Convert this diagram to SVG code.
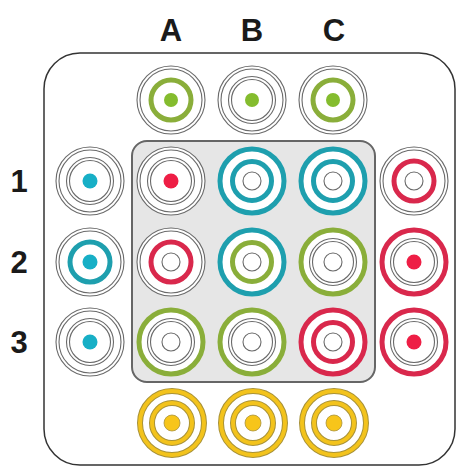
<svg xmlns="http://www.w3.org/2000/svg" width="459" height="466" viewBox="0 0 459 466">
<style>
.lbl{font-family:"Liberation Sans",Arial,sans-serif;font-weight:bold;font-size:31px;fill:#1a1a1a;text-anchor:middle}
.t{fill:none;stroke:#6a6a6a;stroke-width:1.1}
.s{fill:none;stroke:#6a6a6a;stroke-width:1.1}
.g{fill:none;stroke:#8AAE3A;stroke-width:5}
.b{fill:none;stroke:#1E9FAE;stroke-width:5}
.r{fill:none;stroke:#D9284C;stroke-width:5}
.yo{fill:none;stroke:#A89238;stroke-width:6}
.y{fill:none;stroke:#F3C31C;stroke-width:4}
.dg{fill:#84BC2E}
.db{fill:#17AFC6}
.dr{fill:#EE1E45}
.dy{fill:#F7C51A;stroke:#A89238;stroke-width:0.8}
</style>
<rect x="44" y="53" width="411" height="412" rx="36" fill="#fff" stroke="#333" stroke-width="1.5"/>
<rect x="132" y="141" width="243" height="241" rx="15" fill="#E6E6E6" stroke="#666" stroke-width="2"/>
<g id="labels">
<text class="lbl" x="171" y="41">A</text>
<text class="lbl" x="252" y="41">B</text>
<text class="lbl" x="334" y="41">C</text>
<text class="lbl" x="19" y="192">1</text>
<text class="lbl" x="19" y="273">2</text>
<text class="lbl" x="19" y="353">3</text>
</g>
<g id="connectors"/>
<!-- top row -->
<g id="topA" transform="translate(171,100)"><circle r="34" fill="#fff"/><circle class="t" r="34"/><circle class="t" r="31"/><circle class="g" r="20"/><circle class="dg" r="7"/></g>
<g id="topB" transform="translate(252,100)"><circle r="34" fill="#fff"/><circle class="t" r="34"/><circle class="t" r="31"/><circle class="t" r="23.5"/><circle class="t" r="20.5"/><circle class="dg" r="7"/></g>
<g id="topC" transform="translate(333,100)"><circle r="34" fill="#fff"/><circle class="t" r="34"/><circle class="t" r="31"/><circle class="g" r="20"/><circle class="dg" r="7"/></g>
<!-- left column -->
<g id="left1" transform="translate(90,181)"><circle r="34" fill="#fff"/><circle class="t" r="34"/><circle class="t" r="31"/><circle class="t" r="23.5"/><circle class="t" r="20.5"/><circle class="db" r="7.5"/></g>
<g id="left2" transform="translate(90,262)"><circle r="34" fill="#fff"/><circle class="t" r="34"/><circle class="t" r="31"/><circle class="b" r="20"/><circle class="db" r="7.5"/></g>
<g id="left3" transform="translate(90,342)"><circle r="34" fill="#fff"/><circle class="t" r="34"/><circle class="t" r="31"/><circle class="t" r="23.5"/><circle class="t" r="20.5"/><circle class="db" r="7.5"/></g>
<!-- grid -->
<g id="A1" transform="translate(171,181)"><circle r="34" fill="#fff"/><circle class="t" r="34"/><circle class="t" r="31"/><circle class="t" r="23.5"/><circle class="t" r="20.5"/><circle class="dr" r="7.5"/></g>
<g id="B1" transform="translate(252,181)"><circle r="34" fill="#fff"/><circle class="b" r="32"/><circle class="b" r="19.5"/><circle class="s" r="9"/></g>
<g id="C1" transform="translate(333,181)"><circle r="34" fill="#fff"/><circle class="b" r="32"/><circle class="b" r="19.5"/><circle class="s" r="9"/></g>
<g id="A2" transform="translate(171,262)"><circle r="34" fill="#fff"/><circle class="t" r="34"/><circle class="t" r="31"/><circle class="r" r="20"/><circle class="s" r="9"/></g>
<g id="B2" transform="translate(252,262)"><circle r="34" fill="#fff"/><circle class="b" r="32"/><circle class="g" r="19.5"/><circle class="s" r="9"/></g>
<g id="C2" transform="translate(333,262)"><circle r="34" fill="#fff"/><circle class="g" r="32"/><circle class="t" r="23.5"/><circle class="t" r="20.5"/><circle class="s" r="9"/></g>
<g id="A3" transform="translate(171,342)"><circle r="34" fill="#fff"/><circle class="g" r="32"/><circle class="t" r="23.5"/><circle class="t" r="20.5"/><circle class="s" r="9"/></g>
<g id="B3" transform="translate(252,342)"><circle r="34" fill="#fff"/><circle class="g" r="32"/><circle class="t" r="23.5"/><circle class="t" r="20.5"/><circle class="s" r="9"/></g>
<g id="C3" transform="translate(333,342)"><circle r="34" fill="#fff"/><circle class="r" r="32"/><circle class="r" r="19.5"/><circle class="s" r="9"/></g>
<!-- right column -->
<g id="right1" transform="translate(414,181)"><circle r="34" fill="#fff"/><circle class="t" r="34"/><circle class="t" r="31"/><circle class="r" r="20"/><circle class="s" r="9"/></g>
<g id="right2" transform="translate(414,262)"><circle r="34" fill="#fff"/><circle class="r" r="32"/><circle class="t" r="23.5"/><circle class="t" r="20.5"/><circle class="dr" r="7.5"/></g>
<g id="right3" transform="translate(414,342)"><circle r="34" fill="#fff"/><circle class="r" r="32"/><circle class="t" r="23.5"/><circle class="t" r="20.5"/><circle class="dr" r="7.5"/></g>
<!-- bottom row -->
<g id="botA" transform="translate(172,423)"><circle r="34" fill="#fff"/><circle class="yo" r="32"/><circle class="y" r="32"/><circle class="yo" r="20"/><circle class="y" r="20"/><circle class="dy" r="8"/></g>
<g id="botB" transform="translate(253,423)"><circle r="34" fill="#fff"/><circle class="yo" r="32"/><circle class="y" r="32"/><circle class="yo" r="20"/><circle class="y" r="20"/><circle class="dy" r="8"/></g>
<g id="botC" transform="translate(334,423)"><circle r="34" fill="#fff"/><circle class="yo" r="32"/><circle class="y" r="32"/><circle class="yo" r="20"/><circle class="y" r="20"/><circle class="dy" r="8"/></g>
</svg>
